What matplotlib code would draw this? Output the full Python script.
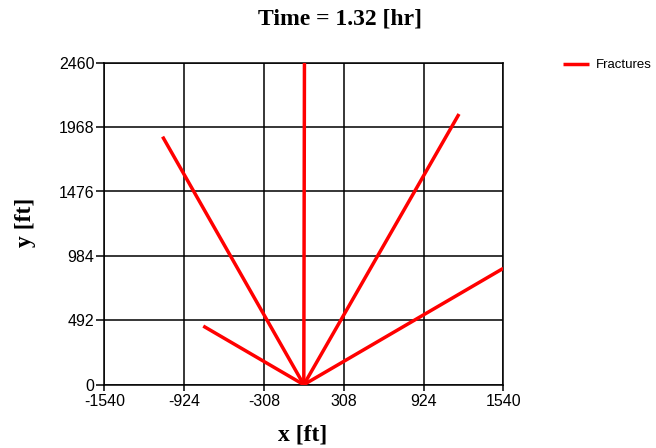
import matplotlib
matplotlib.use("Agg")
import matplotlib.pyplot as plt

# Data
origin_x = 0.0
origin_y = 0.0
frac_end_x = [-1090, -776, 5, 1198, 1540]
frac_end_y = [1895, 448, 2460, 2068, 889]
x_ticks = [-1540, -924, -308, 308, 924, 1540]
y_ticks = [0, 492, 984, 1476, 1968, 2460]
title = "Time = 1.32 [hr]"

fig = plt.figure(figsize=(6.56, 4.48), dpi=100)
ax = fig.add_axes([104.3 / 656, 1 - 384.7 / 448, 399 / 656, 322 / 448])

for i, (xe, ye) in enumerate(zip(frac_end_x, frac_end_y)):
    ax.plot([origin_x, xe], [origin_y, ye], color="#ff0000", lw=2.5,
            solid_capstyle="butt", label="Fractures" if i == 0 else None, zorder=3)

ax.set_xlim(-1540, 1540)
ax.set_ylim(0, 2460)
ax.set_xticks(x_ticks)
ax.set_yticks(y_ticks)
ax.grid(True, color="black", lw=1.1)
ax.set_axisbelow(True)
for s in ax.spines.values():
    s.set_color("black")
    s.set_linewidth(1.1)

tick_font = {"family": ["Liberation Sans", "DejaVu Sans"], "size": 11.5}
ax.set_xticklabels([str(t) for t in x_ticks], fontdict=tick_font)
ax.set_yticklabels([str(t) for t in y_ticks], fontdict=tick_font)
ax.tick_params(axis="x", length=4, pad=3, width=1.1)
ax.tick_params(axis="y", length=6, pad=1, width=1.1)

serif = ["Liberation Serif", "DejaVu Serif"]
fig.text(339.7 / 656, 1 - 19 / 448, title, ha="center", va="center",
         fontsize=17, fontweight="bold", family=serif)
fig.text(302.7 / 656, 1 - 435 / 448, "x [ft]", ha="center", va="center",
         fontsize=17, fontweight="bold", family=serif)
fig.text(25 / 656, 1 - 222 / 448, "y [ft]", ha="center", va="center",
         rotation=90, fontsize=17, fontweight="bold", family=serif)

leg = fig.legend(loc="upper left", bbox_to_anchor=(563 / 656, 1 - 59 / 448),
                 frameon=False, handlelength=2.0, handletextpad=0.5,
                 borderpad=0, borderaxespad=0,
                 prop={"family": ["Liberation Sans", "DejaVu Sans"], "size": 9.5})

fig.savefig("out.png", dpi=100)
